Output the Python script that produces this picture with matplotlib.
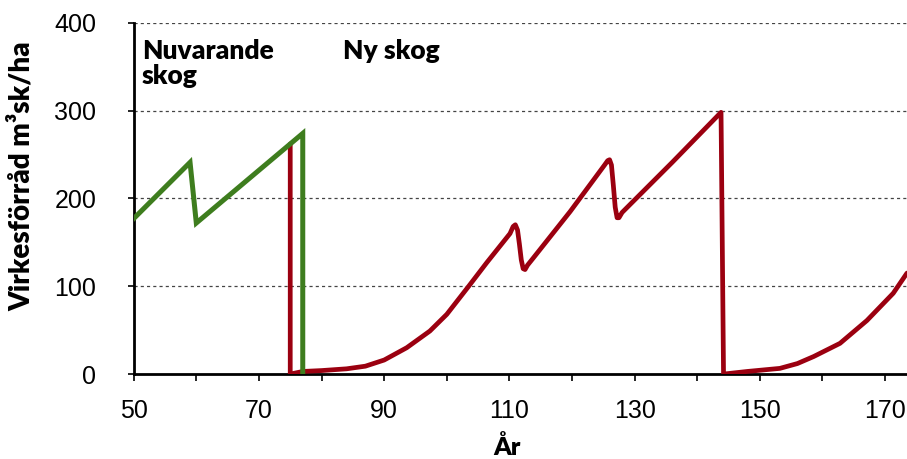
import matplotlib.pyplot as plt

# Values (year, standing volume m3sk/ha)
old_years = [50, 59, 60, 77, 77]
old_volume = [177, 241, 172, 274, 0]

new_years = [75, 75, 77, 80, 84, 87, 90, 93.6, 97.3, 100, 103.5, 106.4, 110.1, 110.6, 110.95,
             111.3, 111.6, 111.9, 112.2, 112.5, 112.9, 113.8, 119.7, 125.2, 125.7, 126.0,
             126.3, 126.6, 126.9, 127.2, 127.5, 128.0, 136, 143.8, 144.2,
             148, 153.2, 156, 158.6, 162.8, 167.1, 171.3, 173.5]
new_volume = [262, 0, 3, 4, 6, 9, 16, 30, 49, 68, 100, 127, 160, 168, 170,
              164, 148, 130, 120, 119, 124, 132, 185, 238, 243, 244,
              238, 215, 190, 178, 178, 184, 241, 298, 0,
              3, 6.5, 12, 20, 35, 61, 92, 115]

x_ticks = [50, 70, 90, 110, 130, 150, 170]
y_ticks = [0, 100, 200, 300, 400]

plt.rcParams['font.family'] = ['Liberation Sans', 'DejaVu Sans']
bold_font = dict(family=['Lato', 'DejaVu Sans'], fontweight='heavy')

fig = plt.figure(figsize=(9.07, 4.59), dpi=100)
ax = fig.add_axes([0.1474, 0.185, 0.8526, 0.7655])

ax.plot(new_years, new_volume, color='#9b0010', lw=3.4, solid_joinstyle='round',
        solid_capstyle='round', zorder=3)
ax.plot(old_years, old_volume, color='#3e7d1e', lw=3.6, solid_joinstyle='miter', zorder=4)

ax.set_xlim(50, 173.5)
ax.set_ylim(0, 400)
ax.set_xticks(range(50, 174, 10))
ax.set_xticklabels([str(t) if t in x_ticks else '' for t in range(50, 174, 10)])
ax.set_yticks(y_ticks)
ax.tick_params(axis='both', labelsize=18, direction='out', length=5, width=1.2)
ax.tick_params(axis='x', pad=13)
ax.tick_params(axis='y', pad=23, length=4)

for y in y_ticks[1:]:
    ax.axhline(y, color='#444444', lw=0.9, ls=(0, (2.5, 2.5)), zorder=1)

for s in ['top', 'right']:
    ax.spines[s].set_visible(False)
ax.spines['left'].set_linewidth(2)
ax.spines['bottom'].set_linewidth(2)

fig.text(22 / 907, 1 - 176 / 459, 'Virkesförråd m³sk/ha', fontsize=20, rotation=90,
         ha='center', va='center', **bold_font)
fig.text(507 / 907, 1 - 455 / 459, 'År', fontsize=18, ha='center', va='baseline', **bold_font)

ax.text(51.3, 382, 'Nuvarande\nskog', fontsize=19, va='top', ha='left',
        linespacing=1.05, **bold_font)
ax.text(83.4, 382, 'Ny skog', fontsize=19, va='top', ha='left', **bold_font)

fig.savefig('out.png', dpi=100)
